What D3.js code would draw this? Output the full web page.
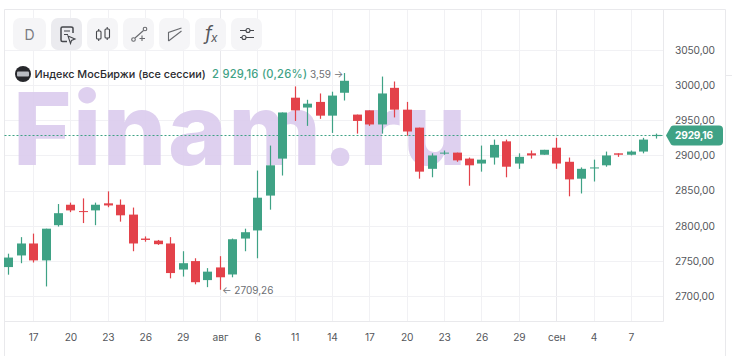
<!DOCTYPE html>
<html>
<head>
<meta charset="utf-8">
<script src="https://cdnjs.cloudflare.com/ajax/libs/d3/7.8.5/d3.min.js"></script>
<style>
  html, body { margin: 0; padding: 0; background: #fff; overflow: hidden; }
  text { font-family: Inter, "Noto Sans", sans-serif; }
  .axis path, .axis line { display: none; }
  .axis text { fill: #55575c; font-size: 10.2px; letter-spacing: -0.1px; font-family: Inter, sans-serif; }
</style>
</head>
<body>
<div id="chart"></div>
<script>
// daily candles
const days = ["07-15","07-16","07-17","07-18","07-19","07-20","07-21","07-22","07-23","07-24","07-25","07-26","07-27","07-28","07-29","07-30","07-31",
  "08-01","08-02","08-05","08-06","08-07","08-08","08-11","08-12","08-13","08-14","08-15","08-16","08-17","08-18","08-19","08-20","08-21","08-22","08-23","08-24","08-25","08-26","08-27","08-28","08-29","08-30","08-31",
  "09-01","09-02","09-03","09-04","09-05","09-06","09-07","09-08","09-09"];
const opens = [2741.5,2758,2775,2751,2801,2830,2821,2822,2832,2830,2816,2782,2779,2775,2738,2750,2723,2741,2731,2782,2793.5,2843,2895.5,2982,2968,2976,2956.5,2989,2958,2964,2944,2996,2965,2939.5,2881,2903,2904,2895.5,2888.5,2897,2920,2888.5,2903,2901,2911,2891,2867,2881.5,2886,2903,2901,2905.5,2927.5];
const closes = [2755,2775,2751,2796,2818,2822,2820,2830,2829,2815,2775,2780,2774,2733,2747,2720,2735,2727,2781,2791,2840,2886,2961,2964,2973.5,2956.5,2985,3006,2949,2944,2988,2965,2934,2877,2900,2904,2893,2886,2894,2915,2884,2898,2900,2908,2888.5,2866,2881,2883,2900,2901,2905.5,2922.5,2929.16];
const highs = [2760.5,2784,2789,2796,2831,2833,2839,2833,2849,2837.5,2826,2785,2780,2784,2764,2754,2740,2757,2782,2796,2878.5,2914,2961,2998,2979,2988,2990.5,3017,2958,2964,3012,3005,2976,2939.5,2903,2907,2904,2897,2914,2922.5,2922.5,2903,2907,2908,2925,2897,2883,2894,2905.5,2903,2907,2925,2931];
const lows = [2730.7,2747,2748,2714,2799,2819.5,2804,2801,2826.5,2806,2764,2777.5,2773,2725.5,2728,2717,2713,2709.26,2727,2764,2754,2823,2871.5,2949,2942,2952,2932,2978,2931,2942,2931,2954,2928,2867,2869,2901,2891,2857,2877,2887,2869,2881,2895.5,2901,2881,2842,2846,2863,2884,2898,2900,2903,2924];

const priceTicks = [3050,3000,2950,2900,2850,2800,2750,2700];
const monthNames = {"08":"авг","09":"сен"};
const lastPrice = 2929.16;
const legendName = "Индекс МосБиржи (все сессии)";
const legendValue = "2 929,16 (0,26%)";
const highLabel = "3,59";
const lowLabel = "2709,26";

const candles = days.map((d, i) => ({day: d, o: opens[i], c: closes[i], h: highs[i], l: lows[i]}));

const width = 732, height = 356;
const plot = {left: 4.5, right: 663.5, top: 9.5, bottom: 321.5};
const green = "#3fa285", red = "#e3424a", gridColor = "#f1f1f4", frameColor = "#e9e9ec";

const svg = d3.select("#chart").append("svg")
    .attr("width", width)
    .attr("height", height)
    .style("display", "block");

const xScale = d3.scalePoint().domain(days).range([8.2, 655.8]);
const yScale = d3.scaleLinear().domain([2700, 3050]).range([296.3, 49.8]);
const tickDays = days.filter((d, i) => i % 3 === 2);

const fmtPrice = v => v.toFixed(2).replace(".", ",");
const fmtDay = d => {
  const [m, day] = d.split("-");
  return day === "01" ? monthNames[m] : String(+day);
};

// grid
svg.append("g").selectAll("line")
    .data(tickDays)
    .join("line")
    .attr("x1", d => Math.round(xScale(d)) + 0.5)
    .attr("x2", d => Math.round(xScale(d)) + 0.5)
    .attr("y1", plot.top)
    .attr("y2", plot.bottom)
    .attr("stroke", d => d.endsWith("-01") ? "#e8e8ec" : gridColor);

svg.append("g").selectAll("line")
    .data(priceTicks)
    .join("line")
    .attr("x1", plot.left)
    .attr("x2", plot.right)
    .attr("y1", d => Math.round(yScale(d)) + 0.5)
    .attr("y2", d => Math.round(yScale(d)) + 0.5)
    .attr("stroke", gridColor);

// watermark
svg.append("text")
    .attr("x", 13)
    .attr("y", 165)
    .attr("font-size", 100)
    .attr("font-weight", 800)
    .attr("fill", "#dccdee")
    .attr("opacity", 0.92)
    .style("letter-spacing", "1.5px")
    .text("Finam.ru");

// frame
const frame = svg.append("g").attr("stroke", frameColor).attr("fill", "none");
frame.append("path").attr("d", `M${plot.left},356V${plot.top}H725.5V356`);
frame.append("path").attr("d", `M${plot.left},${plot.bottom}H${plot.right}V${plot.top}`);
frame.append("path").attr("d", "M725.5,75.5H732");

// axes
svg.append("g")
    .attr("class", "axis")
    .attr("transform", `translate(0,${plot.bottom})`)
    .call(d3.axisBottom(xScale).tickValues(tickDays).tickFormat(fmtDay).tickSize(0).tickPadding(12));

svg.append("g")
    .attr("class", "axis")
    .attr("transform", "translate(675,0)")
    .call(d3.axisRight(yScale).tickValues(priceTicks).tickFormat(fmtPrice).tickSize(0).tickPadding(0));

// last price line
svg.append("line")
    .attr("x1", plot.left)
    .attr("x2", plot.right)
    .attr("y1", Math.round(yScale(lastPrice)) + 0.5)
    .attr("y2", Math.round(yScale(lastPrice)) + 0.5)
    .attr("stroke", green)
    .attr("stroke-dasharray", "2 2");

// candles
const candle = svg.append("g").selectAll("g")
    .data(candles)
    .join("g")
    .attr("fill", d => d.c >= d.o ? green : red);

candle.append("rect")
    .attr("x", d => Math.round(xScale(d.day)) - 0.1)
    .attr("width", 1.2)
    .attr("y", d => yScale(d.h))
    .attr("height", d => yScale(d.l) - yScale(d.h));

candle.append("rect")
    .attr("x", d => Math.round(xScale(d.day)) - 4)
    .attr("width", 9)
    .attr("y", d => yScale(Math.max(d.o, d.c)))
    .attr("height", d => Math.max(1, Math.abs(yScale(d.o) - yScale(d.c))));

// last price tag
const tagY = yScale(lastPrice) + 0.5;
svg.append("path")
    .attr("d", `M666,${tagY}L671,${tagY - 9}Q672,${tagY - 10} 674,${tagY - 10}H719Q723,${tagY - 10} 723,${tagY - 6}V${tagY + 6}Q723,${tagY + 10} 719,${tagY + 10}H674Q672,${tagY + 10} 671,${tagY + 9}Z`)
    .attr("fill", green);
svg.append("text")
    .attr("x", 675)
    .attr("y", tagY + 4)
    .attr("font-size", 10.2)
    .attr("font-weight", 700)
    .attr("fill", "#fff")
    .style("letter-spacing", "-0.2px")
    .text(fmtPrice(lastPrice));

// low / high labels
svg.append("text")
    .attr("x", 222)
    .attr("y", yScale(2709.26) + 4)
    .attr("font-size", 10)
    .attr("fill", "#6d6f74")
    .text("← " + lowLabel);

// legend
svg.append("circle").attr("cx", 23).attr("cy", 74).attr("r", 8).attr("fill", "#26272b");
svg.append("rect").attr("x", 17).attr("y", 71.5).attr("width", 12).attr("height", 5).attr("rx", 1).attr("fill", "#b9bcc2");
svg.append("text")
    .attr("x", 34.5)
    .attr("y", 78)
    .attr("font-size", 10.8)
    .attr("font-weight", 500)
    .attr("fill", "#2a2b2f")
    .text(legendName);
svg.append("text")
    .attr("x", 212)
    .attr("y", 78)
    .attr("font-size", 11.2)
    .attr("font-weight", 500)
    .attr("fill", green)
    .style("letter-spacing", "0.25px")
    .text(legendValue);
svg.append("text")
    .attr("x", 310)
    .attr("y", 77.5)
    .attr("font-size", 10)
    .attr("fill", "#6d6f74")
    .text(highLabel + " →");

// toolbar
const buttons = [13, 51, 87, 123, 159, 195, 231];
const bar = svg.append("g");
bar.selectAll("rect")
    .data(buttons)
    .join("rect")
    .attr("x", d => d)
    .attr("y", 18)
    .attr("width", (d, i) => i === 0 ? 33 : 31)
    .attr("height", 32)
    .attr("rx", 7)
    .attr("fill", (d, i) => i === 1 ? "#ebebef" : "#f5f5f7");

bar.append("text")
    .attr("x", 29.5).attr("y", 39.5)
    .attr("text-anchor", "middle")
    .attr("font-size", 14)
    .attr("fill", "#7a7c82")
    .text("D");

const icon = bar.append("g").attr("fill", "none").attr("stroke", "#45474c").attr("stroke-width", 1.1);
// report icon
icon.append("path").attr("stroke-width", 1.5).attr("d", "M67,41.5H62.5Q61,41.5 61,40V28.5Q61,27 62.5,27H71Q73,27 73,28.5V33");
icon.append("path").attr("d", "M64,31H70M64,34.5H68");
icon.append("path").attr("d", "M68,36L75,39L71.5,40.5L70.5,43.5Z");
// candles icon
icon.append("rect").attr("x", 96.5).attr("y", 31).attr("width", 4.5).attr("height", 8).attr("rx", 1);
icon.append("rect").attr("x", 105).attr("y", 29).attr("width", 4.5).attr("height", 9).attr("rx", 1);
icon.append("path").attr("d", "M98.7,29V31M98.7,39V41M107.2,27V29M107.2,38V40");
// line tool icon
icon.append("g").attr("opacity", 0.8).call(g => {
  g.append("circle").attr("cx", 133.5).attr("cy", 39.5).attr("r", 1.8);
  g.append("circle").attr("cx", 145).attr("cy", 29).attr("r", 1.8);
  g.append("path").attr("d", "M135,38L143.5,30.5M142,35.5V41M139.5,38.5H145");
});
// channel icon
icon.append("path").attr("opacity", 0.8).attr("d", "M168.5,41V32.5L181.5,28M168.5,41L181.5,31M168.5,32.5L181.5,28");
// indicators icon
bar.append("text")
    .attr("x", 205).attr("y", 40)
    .attr("font-size", 19)
    .attr("font-style", "italic")
    .attr("font-family", "Liberation Serif")
    .attr("fill", "#55575c")
    .text("f");
bar.append("text")
    .attr("x", 211).attr("y", 42)
    .attr("font-size", 12)
    .attr("font-style", "italic")
    .attr("font-family", "Liberation Serif")
    .attr("fill", "#55575c")
    .text("x");
// settings icon
icon.append("path").attr("d", "M240,30.5H246M250,30.5H254M240,37.5H242M246,37.5H254");
icon.append("circle").attr("cx", 248).attr("cy", 30.5).attr("r", 2);
icon.append("circle").attr("cx", 244).attr("cy", 37.5).attr("r", 2);
</script>
</body>
</html>
